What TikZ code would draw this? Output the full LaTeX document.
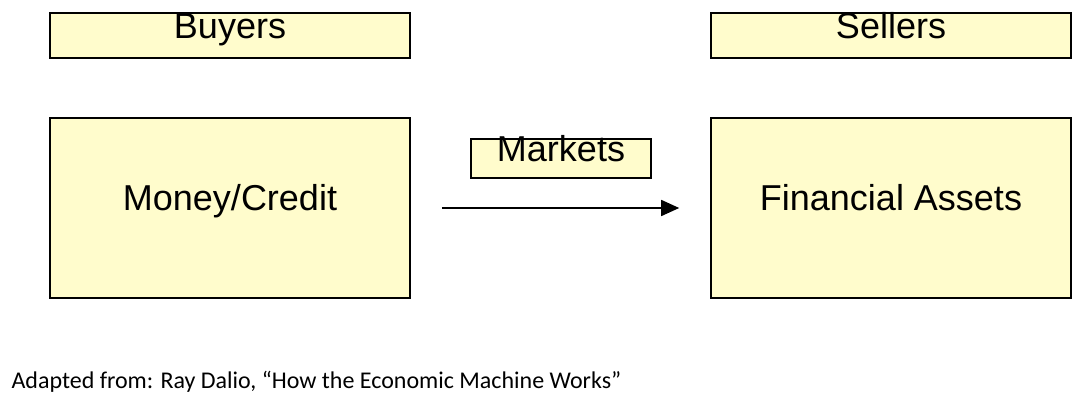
\documentclass[tikz,border=0pt]{standalone}
\usepackage{fontspec}
\usetikzlibrary{arrows.meta}
\setmainfont{Liberation Sans}
\newfontfamily\captionfont{Carlito}
\begin{document}
\begin{tikzpicture}
  [
    x=1pt,y=1pt,
    font=\fontsize{36}{42}\selectfont,
    yellow box/.style={draw,line width=1.6pt,fill=yellow!20,minimum height=#1,
      inner sep=0pt,text height=0.72em,text depth=0.2em},
  ]
  \useasboundingbox (0,0) rectangle (1084,402);
  \node(buyers)[yellow box=45pt,minimum width=360pt] at (230,366.5){Buyers};
  \node(sellers)[yellow box=45pt,minimum width=360pt] at (891,366.5){Sellers};
  \node(money)[yellow box=180pt,minimum width=360pt] at (230,194){Money/Credit};
  \node(assets)[yellow box=180pt,minimum width=360pt] at (891,194){Financial Assets};
  \node(markets)[yellow box=39pt,minimum width=180pt] at (561,243.5){Markets};
  \draw[line width=1.6pt,-{Triangle[length=18pt,width=16pt]}] ([xshift=31pt]money.east) -- ([xshift=-31pt]assets.west);
  \node(source)[anchor=base west,font=\captionfont\fontsize{24}{28}\selectfont] at (8,14){Adapted from: Ray Dalio, “How the Economic Machine Works”};
\end{tikzpicture}
\end{document}
